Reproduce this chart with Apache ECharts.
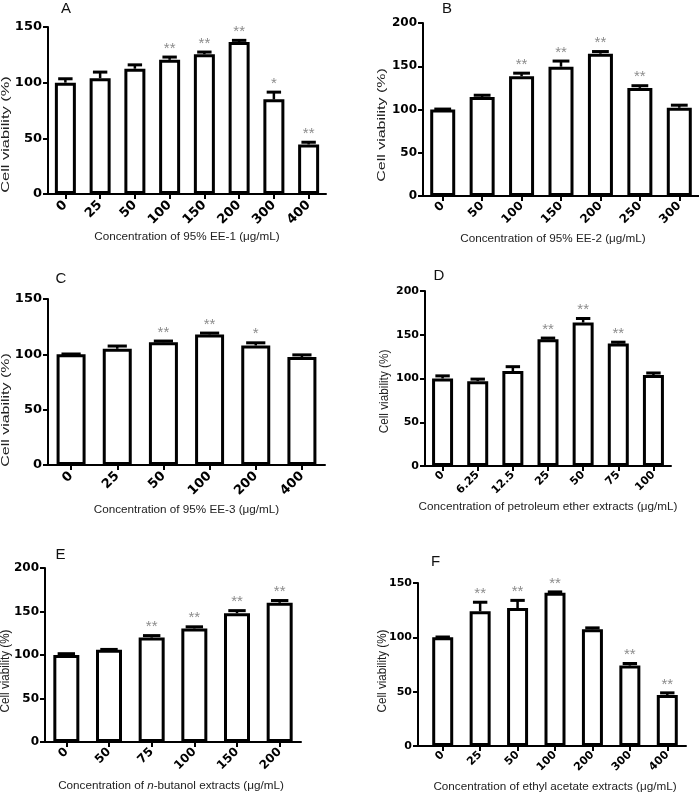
<!DOCTYPE html>
<html><head><meta charset="utf-8">
<script src="https://cdn.jsdelivr.net/npm/echarts@6/dist/echarts.min.js"></script>
<style>html,body{margin:0;padding:0;background:#fff}#c{width:699px;height:795px}</style>
</head><body><div id="c"></div>
<script>
// ---------------- DATA ----------------
const catsA = ['0','25','50','100','150','200','300','400'];
const valsA = [100, 104, 112.5, 120.5, 125.5, 136.5, 85, 44.5];
const errA  = [3.5, 5.5, 3.5, 2.5, 2, 1.5, 6.5, 2];
const sigA  = ['', '', '', '**', '**', '**', '*', '**'];
const yTicksA = [0, 50, 100, 150];

const catsB = ['0','50','100','150','200','250','300'];
const valsB = [100, 114.5, 138.5, 149.5, 164.5, 125, 102];
const errB  = [0.5, 2, 3.5, 6.5, 2.5, 2.5, 3];
const sigB  = ['', '', '**', '**', '**', '**', ''];
const yTicksB = [0, 50, 100, 150, 200];

const catsC = ['0','25','50','100','200','400'];
const valsC = [100, 105, 111, 118, 108, 97.5];
const errC  = [0.3, 2.5, 1, 1.2, 2.4, 2];
const sigC  = ['', '', '**', '**', '*', ''];
const yTicksC = [0, 50, 100, 150];

const catsD = ['0','6.25','12.5','25','50','75','100'];
const valsD = [100, 97, 108.5, 145, 164, 140, 104];
const errD  = [3, 2.3, 5, 1.2, 4.6, 1.5, 2.3];
const sigD  = ['', '', '', '**', '**', '**', ''];
const yTicksD = [0, 50, 100, 150, 200];

const catsE = ['0','50','75','100','150','200'];
const valsE = [100, 106, 120, 130.5, 148, 160];
const errE  = [1.5, 0.4, 2.3, 1.9, 3, 2.6];
const sigE  = ['', '', '**', '**', '**', '**'];
const yTicksE = [0, 50, 100, 150, 200];

const catsF = ['0','25','50','100','200','300','400'];
const valsF = [100, 124, 127, 141, 107.5, 74, 47];
const errF  = [0.3, 8.3, 7, 0.8, 1.2, 1.9, 1.9];
const sigF  = ['', '**', '**', '**', '', '**', '**'];
const yTicksF = [0, 50, 100, 150];

const letters = ['A','B','C','D','E','F'];
const xTitles = [
  'Concentration of 95% EE-1 (\u03bcg/mL)',
  'Concentration of 95% EE-2 (\u03bcg/mL)',
  'Concentration of 95% EE-3 (\u03bcg/mL)',
  'Concentration of petroleum ether extracts (\u03bcg/mL)',
  'Concentration of {i|n}-butanol extracts (\u03bcg/mL)',
  'Concentration of ethyl acetate extracts (\u03bcg/mL)'
];
const yTitle = 'Cell viability (%)';

// ---------------- LAYOUT ----------------
const layout = [
  {left:48,  top:27,  width:278, height:167, barW:21, font:13, yOff:0, letter:[66,8.5],  yt:[6,134.5,11,1.49],  gap:37, pad:0,  lm:9},
  {left:423, top:23,  width:280, height:173, barW:25, font:12, yOff:0, letter:[447,8.5], yt:[381.5,125,11,1.45], gap:37, pad:16, lm:8},
  {left:48,  top:299, width:277, height:166, barW:29, font:13, yOff:0, letter:[61,279],  yt:[6,410,11,1.45],    gap:39, pad:0,  lm:9},
  {left:425, top:291, width:246, height:175, barW:21, font:11, yOff:0, letter:[439,276], yt:[385,391.5,12,0.98], gap:35, pad:0,  lm:7},
  {left:45,  top:568, width:256, height:174, barW:26, font:12, yOff:0, letter:[60.5,555],yt:[5.5,671,12,0.97],   gap:38, pad:4,  lm:8},
  {left:424, top:583, width:262, height:163, barW:21, font:11, yOff:6, letter:[435.5,562],yt:[383,671,12,0.97],  gap:35, pad:0,  lm:7}
];

const cats = [catsA,catsB,catsC,catsD,catsE,catsF];
const vals = [valsA,valsB,valsC,valsD,valsE,valsF];
const errs = [errA,errB,errC,errD,errE,errF];
const sigs = [sigA,sigB,sigC,sigD,sigE,sigF];
const yTicks = [yTicksA,yTicksB,yTicksC,yTicksD,yTicksE,yTicksF];

const grid = [], xAxis = [], yAxis = [], series = [], graphic = [];
const TICKFONT = '"DejaVu Sans", sans-serif';
const TXTFONT = '"Liberation Sans", Arial, sans-serif';

for (let p = 0; p < 6; p++) {
  const L = layout[p];
  grid.push({left:L.left, top:L.top, width:L.width, height:L.height, containLabel:false});
  const t = yTicks[p];
  xAxis.push({
    type:'category', gridIndex:p, data:cats[p],
    axisLine:{show:true, lineStyle:{color:'#000', width:2}},
    axisTick:{show:true, alignWithLabel:true, length:5, lineStyle:{color:'#000', width:2}},
    axisLabel:{rotate:45, margin:L.lm, padding:[14,0,0,0], color:'#000', fontWeight:'bold', fontSize:L.font, fontFamily:TICKFONT, interval:0},
    name:xTitles[p], nameLocation:'middle', nameGap:L.gap,
    nameTextStyle:{fontSize:11.7, color:'#222', fontFamily:TXTFONT, padding:[0,L.pad,0,0],
      rich:{i:{fontStyle:'italic', fontSize:11.7, color:'#222', fontFamily:TXTFONT}}}
  });
  yAxis.push({
    type:'value', gridIndex:p, min:t[0], max:t[t.length-1], interval:t[1]-t[0], offset:L.yOff,
    axisLine:{show:true, lineStyle:{color:'#000', width:2}},
    axisTick:{show:true, length:5, lineStyle:{color:'#000', width:2}},
    axisLabel:{margin:6, color:'#000', fontWeight:'bold', fontSize:L.font, fontFamily:TICKFONT},
    splitLine:{show:false}
  });
  series.push({
    type:'bar', xAxisIndex:p, yAxisIndex:p, data:vals[p], barWidth:L.barW,
    itemStyle:{color:'#fff', borderColor:'#000', borderWidth:3},
    silent:true, animation:false, z:2
  });
  const sg = sigs[p];
  const capW = (L.barW + 3) * 0.6;
  series.push({
    type:'custom', xAxisIndex:p, yAxisIndex:p, clip:false, animation:false, silent:true, z:3,
    data: vals[p].map((v,i) => [i, v, errs[p][i]]),
    encode:{x:0, y:1},
    renderItem: function(params, api) {
      const i = api.value(0), v = api.value(1), e = api.value(2);
      const b = api.coord([i, v]);
      const tp = api.coord([i, v + e]);
      const h = capW / 2;
      const ch = [
        {type:'line', shape:{x1:b[0], y1:b[1], x2:b[0], y2:tp[1]}, style:{stroke:'#000', lineWidth:2.5}},
        {type:'line', shape:{x1:b[0]-h, y1:tp[1], x2:b[0]+h, y2:tp[1]}, style:{stroke:'#000', lineWidth:3}}
      ];
      if (sg[i]) {
        ch.push({type:'text', x:b[0], y:tp[1]-1,
          style:{text:sg[i], fill:'#8c8c8c', font:'15px ' + TXTFONT, align:'center', verticalAlign:'bottom',
                 textAlign:'center', textVerticalAlign:'bottom'}});
      }
      return {type:'group', children:ch};
    }
  });
  graphic.push({type:'text', x:L.letter[0], y:L.letter[1],
    style:{text:letters[p], fill:'#111', font:'15px ' + TXTFONT, align:'center', verticalAlign:'middle',
           textAlign:'center', textVerticalAlign:'middle'}});
  graphic.push({type:'text', x:L.yt[0], y:L.yt[1], rotation:Math.PI/2, scaleX:L.yt[3],
    style:{text:yTitle, fill:'#222', font:L.yt[2] + 'px ' + TXTFONT, align:'center', verticalAlign:'middle',
           textAlign:'center', textVerticalAlign:'middle'}});
  if (L.yOff) {
    graphic.push({type:'line', shape:{x1:L.left - L.yOff - 1, y1:L.top + L.height, x2:L.left, y2:L.top + L.height},
      style:{stroke:'#000', lineWidth:2}});
  }
}

const chart = echarts.init(document.getElementById('c'), null, {renderer:'canvas'});
chart.setOption({animation:false, backgroundColor:'#fff', grid, xAxis, yAxis, series, graphic});
</script></body></html>
